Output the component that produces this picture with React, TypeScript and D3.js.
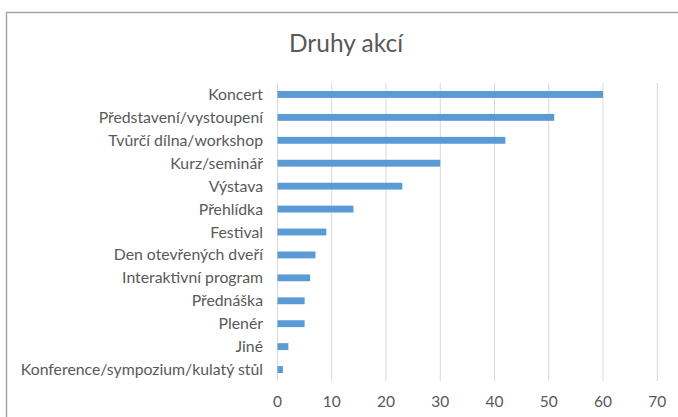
import React, { useEffect, useRef } from 'react';
import * as d3 from 'd3';

const categories = [
  'Koncert',
  'Představení/vystoupení',
  'Tvůrčí dílna/workshop',
  'Kurz/seminář',
  'Výstava',
  'Přehlídka',
  'Festival',
  'Den otevřených dveří',
  'Interaktivní program',
  'Přednáška',
  'Plenér',
  'Jiné',
  'Konference/sympozium/kulatý stůl',
];
const values = [60, 51, 42, 30, 23, 14, 9, 7, 6, 5, 5, 2, 1];
const xTicks = [0, 10, 20, 30, 40, 50, 60, 70];
const title = 'Druhy akcí';

const App = () => {
  const svgRef = useRef<SVGSVGElement>(null);

  useEffect(() => {
    const svg = d3.select(svgRef.current);
    svg.selectAll('*').remove();

    const font = 'Lato, Carlito, "Open Sans", sans-serif';
    const textColor = '#595959';

    // outer chart frame (runs off the right and bottom edge)
    svg.append('rect')
      .attr('x', 6.5)
      .attr('y', 12.5)
      .attr('width', 690)
      .attr('height', 420)
      .attr('fill', '#fff')
      .attr('stroke', '#a0a0a0')
      .attr('stroke-width', 1.4);

    svg.append('text')
      .attr('x', 346)
      .attr('y', 52)
      .attr('text-anchor', 'middle')
      .style('font-family', font)
      .style('font-size', '24.5px')
      .style('fill', textColor)
      .text(title);

    const left = 277.5;
    const right = 657.3;
    const top = 83;
    const bottom = 381;

    const x = d3.scaleLinear().domain([0, 70]).range([left, right]);
    const y = d3.scaleBand().domain(categories).range([top, bottom]).paddingInner(0.7).paddingOuter(0.35);

    // gridlines
    svg.append('g')
      .selectAll('line')
      .data(xTicks)
      .enter()
      .append('line')
      .attr('x1', d => x(d))
      .attr('x2', d => x(d))
      .attr('y1', top)
      .attr('y2', bottom)
      .attr('stroke', '#d9d9d9')
      .attr('stroke-width', 1);

    // bars
    svg.append('g')
      .selectAll('rect')
      .data(categories)
      .enter()
      .append('rect')
      .attr('x', x(0))
      .attr('y', d => y(d)!)
      .attr('width', (d, i) => x(values[i]) - x(0))
      .attr('height', y.bandwidth())
      .attr('fill', '#5b9bd5');

    // category labels
    svg.append('g')
      .selectAll('text')
      .data(categories)
      .enter()
      .append('text')
      .attr('x', 263)
      .attr('y', d => y(d)! + y.bandwidth() / 2)
      .attr('dy', '0.35em')
      .attr('text-anchor', 'end')
      .style('font-family', font)
      .style('font-size', '15.8px')
      .style('fill', textColor)
      .text(d => d);

    // x tick labels
    svg.append('g')
      .selectAll('text')
      .data(xTicks)
      .enter()
      .append('text')
      .attr('x', d => x(d))
      .attr('y', 407)
      .attr('text-anchor', 'middle')
      .style('font-family', font)
      .style('font-size', '15.5px')
      .style('fill', textColor)
      .text(d => d);
  }, []);

  return (
    <div style={{ position: 'absolute', left: 0, top: 0 }}>
      <svg ref={svgRef} width={678} height={417} style={{ display: 'block' }}></svg>
    </div>
  );
};

export default App;
